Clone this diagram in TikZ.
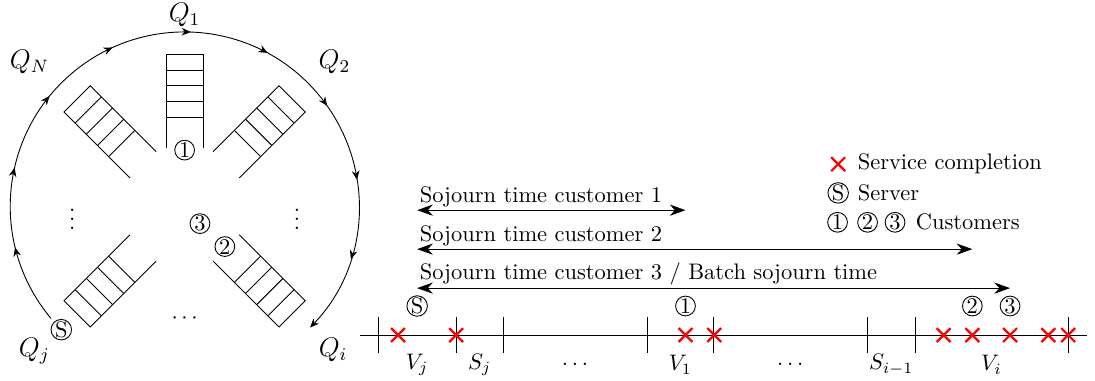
\documentclass[tikz,border=0pt]{standalone}
\usetikzlibrary{arrows.meta,decorations.markings,shapes.misc}

\begin{document}
\begin{tikzpicture}[thin,
crossmark/.style={cross out,draw=red,line width=1pt,minimum size=5.2pt,inner sep=0pt},
custmark/.style={circle,draw,inner sep=0pt,minimum size=8.8pt},
qlabel/.style={font=\large},
sojourn/.style={{Stealth[length=7pt,width=5pt]}-{Stealth[length=7pt,width=5pt]}},
servroute/.style={-{Stealth[length=4pt,width=3.4pt]},postaction={decorate},
  decoration={markings,mark=between positions 0.1 and 0.95 step 0.1 with {\arrow{Stealth[length=4pt,width=3.4pt]}}}}]

\useasboundingbox (0,0) rectangle (17.14,5.95);

\begin{scope}[shift={(2.89,2.72)}]
\draw[servroute] (220:2.73) arc[start angle=220,end angle=-44,radius=2.73];
\foreach \ang in {45,90,135,225,315} {
  \begin{scope}[rotate=\ang-90]
    \draw (-0.29,0.92) -- (-0.29,2.38) -- (0.29,2.38) -- (0.29,0.92);
    \foreach \d in {1,...,4} \draw (-0.29,2.38-0.247*\d) -- (0.29,2.38-0.247*\d);
  \end{scope}
}
\node[custmark] (sv) at (225:2.73) {S};
\node[custmark] (cone) at (0,0.88) {1};
\node[custmark] (ctwo) at (-45:0.89) {2};
\node[custmark] (cthree) at (0.24,-0.27) {3};
\node[qlabel] (qone) at (90:2.99) {$Q_1$};
\node[qlabel] (qtwo) at (44:3.26) {$Q_2$};
\node[qlabel] (qN) at (137:3.32) {$Q_N$};
\node[qlabel] (qj) at (224:3.27) {$Q_j$};
\node[qlabel] (qi) at (-44:3.23) {$Q_i$};
\node (dl) at (-1.76,-0.09) {$\vdots$};
\node (dr) at (1.76,-0.09) {$\vdots$};
\node (db) at (0,-1.75) {$\cdots$};
\end{scope}

\draw (5.64,0.705) -- (17.02,0.705);
\foreach \x [count=\i] in {5.92,7.14,7.88,10.13,11.17,13.58,14.33,16.72}
  \draw (\x,0.425) coordinate (t\i) -- (\x,0.985);
\foreach \x [count=\i] in {6.23,7.14,10.73,11.18,14.77,15.22,15.81,16.41,16.72}
  \node[crossmark] (x\i) at (\x,0.705) {};
\foreach \x/\lab [count=\i] in {6.53/V_j,7.51/S_j,9.0/\ldots,10.65/V_1,12.37/\ldots,13.95/S_{i-1},15.52/V_i}
  \node (lab\i) at (\x,0.24) {$\lab$};

\node[custmark] (tS) at (6.53,1.16) {S};
\node[custmark] (tone) at (10.73,1.16) {1};
\node[custmark] (ttwo) at (15.22,1.16) {2};
\node[custmark] (tthree) at (15.81,1.16) {3};

\coordinate (lvla) at (0,2.66);
\coordinate (lvlb) at (0,2.05);
\coordinate (lvlc) at (0,1.44);
\draw[sojourn] (tS |- lvla) node[above right,inner sep=1pt] (soja) {Sojourn time customer 1} -- (tone |- lvla);
\draw[sojourn] (tS |- lvlb) node[above right,inner sep=1pt] (sojb) {Sojourn time customer 2} -- (ttwo |- lvlb);
\draw[sojourn] (tS |- lvlc) node[above right,inner sep=1pt] (sojc) {Sojourn time customer 3 / Batch sojourn time} -- (tthree |- lvlc);

\node[crossmark] (lgx) at (13.12,3.38) {};
\node[anchor=west,inner sep=0pt] (lgxt) at (13.42,3.38) {Service completion};
\node[custmark] (lgs) at (13.12,2.93) {S};
\node[anchor=west,inner sep=0pt] (lgst) at (13.42,2.93) {Server};
\node[custmark] (lgone) at (13.11,2.47) {1};
\node[custmark] (lgtwo) at (13.58,2.47) {2};
\node[custmark] (lgthree) at (14.01,2.47) {3};
\node[anchor=west,inner sep=0pt] (lgct) at (14.33,2.47) {Customers};

\end{tikzpicture}
\end{document}
